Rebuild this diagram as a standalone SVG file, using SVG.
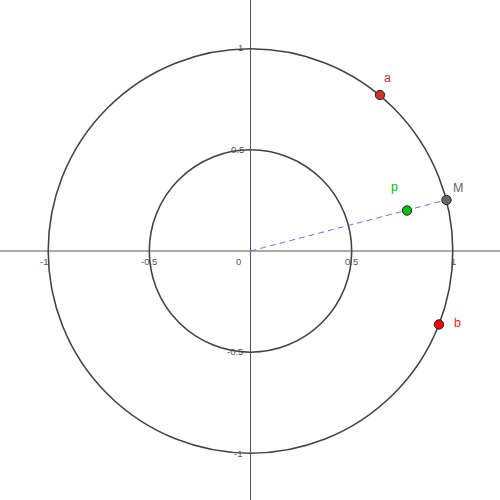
<svg xmlns="http://www.w3.org/2000/svg" width="500" height="500" viewBox="0 0 500 500">
<style>
.axis{stroke:#555;stroke-width:1;fill:none}
.circ{stroke:#444;stroke-width:1.6;fill:none}
.tick{font-family:"Liberation Sans",Arial,sans-serif;font-size:9.5px;fill:#555}
.lbl{font-family:"Liberation Sans",Arial,sans-serif;font-size:12.5px}
.pt{stroke:#222;stroke-width:1}
</style>
<rect width="500" height="500" fill="#fff"/>
<g id="axes">
<line class="axis" x1="0" y1="251" x2="500" y2="251"/>
<line class="axis" x1="250.5" y1="0" x2="250.5" y2="500"/>
<text class="tick" x="236" y="265">0</text>
<text class="tick" x="345" y="265">0.5</text>
<text class="tick" x="141" y="265">-0.5</text>
<text class="tick" x="451" y="265">1</text>
<text class="tick" x="40" y="265">-1</text>
<text class="tick" x="231" y="153">0.5</text>
<text class="tick" x="227" y="355">-0.5</text>
<text class="tick" x="238" y="51">1</text>
<text class="tick" x="234" y="457">-1</text>
</g>
<g id="circles">
<circle class="circ" cx="250.5" cy="251" r="202.3"/>
<circle class="circ" cx="250.5" cy="251" r="101.2"/>
</g>
<g id="connectors">
<line x1="250.5" y1="251" x2="446" y2="200" stroke="#7070ee" stroke-width="1" stroke-dasharray="6,4"/>
</g>
<g id="a">
<circle class="pt" cx="380" cy="95" r="4.7" fill="#d03030"/>
<text class="lbl" x="384" y="82" fill="#d03030">a</text>
</g>
<g id="M">
<circle class="pt" cx="446.5" cy="200" r="4.7" fill="#666"/>
<text class="lbl" x="453" y="192" fill="#666">M</text>
</g>
<g id="p">
<circle class="pt" cx="407" cy="210.5" r="4.7" fill="#00c000"/>
<text class="lbl" x="391" y="191" fill="#00c000">p</text>
</g>
<g id="b">
<circle class="pt" cx="439" cy="324.5" r="4.7" fill="#ff0000"/>
<text class="lbl" x="454" y="327" fill="#ff2020">b</text>
</g>
</svg>
